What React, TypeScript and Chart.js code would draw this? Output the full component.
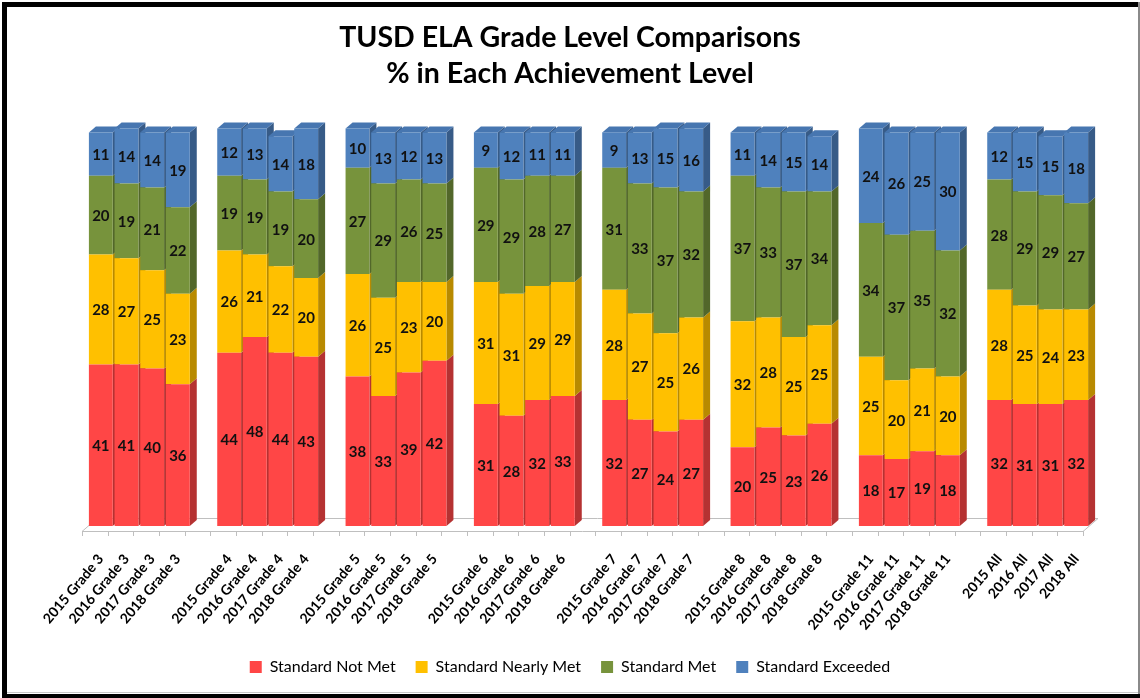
import React, { useEffect, useRef } from 'react';
import { Chart, registerables } from 'chart.js';

Chart.register(...registerables);

const groups = ['Grade 3', 'Grade 4', 'Grade 5', 'Grade 6', 'Grade 7', 'Grade 8', 'Grade 11', 'All'];
const years = ['2015', '2016', '2017', '2018'];
const seriesNames = ['Standard Not Met', 'Standard Nearly Met', 'Standard Met', 'Standard Exceeded'];

const notMet = [41, 41, 40, 36, 44, 48, 44, 43, 38, 33, 39, 42, 31, 28, 32, 33, 32, 27, 24, 27, 20, 25, 23, 26, 18, 17, 19, 18, 32, 31, 31, 32];
const nearlyMet = [28, 27, 25, 23, 26, 21, 22, 20, 26, 25, 23, 20, 31, 31, 29, 29, 28, 27, 25, 26, 32, 28, 25, 25, 25, 20, 21, 20, 28, 25, 24, 23];
const met = [20, 19, 21, 22, 19, 19, 19, 20, 27, 29, 26, 25, 29, 29, 28, 27, 31, 33, 37, 32, 37, 33, 37, 34, 34, 37, 35, 32, 28, 29, 29, 27];
const exceeded = [11, 14, 14, 19, 12, 13, 14, 18, 10, 13, 12, 13, 9, 12, 11, 11, 9, 13, 15, 16, 11, 14, 15, 14, 24, 26, 25, 30, 12, 15, 15, 18];

const frontColors = ['#FF4646', '#FFC000', '#77933C', '#4F81BD'];
const sideColors = ['#B53232', '#B88A00', '#52672A', '#375B87'];
const topColor = '#4776B0';

// build category slots: 4 bars per group, one empty slot between groups
const labels: string[] = [];
groups.forEach((g, gi) => {
  years.forEach((y) => labels.push(`${y} ${g}`));
  if (gi < groups.length - 1) labels.push('');
});
const toSlots = (arr: number[]) => {
  const out: (number | null)[] = [];
  groups.forEach((_, gi) => {
    for (let k = 0; k < 4; k++) out.push(arr[gi * 4 + k]);
    if (gi < groups.length - 1) out.push(null);
  });
  return out;
};
const seriesValues = [notMet, nearlyMet, met, exceeded];

const DX = 7;
const DY = -6;

const framePlugin = {
  id: 'frame',
  beforeDraw(chart: any) {
    const ctx = chart.ctx;
    ctx.save();
    ctx.fillStyle = '#ffffff';
    ctx.fillRect(0, 0, chart.width, chart.height);
    ctx.restore();
  },
  afterDraw(chart: any) {
    const ctx = chart.ctx;
    ctx.save();
    ctx.fillStyle = '#000000';
    ctx.fillRect(2, 2, 1138, 5);
    ctx.fillRect(2, 2, 5, 696);
    ctx.fillRect(2, 694, 1138, 4);
    ctx.fillStyle = '#c8c8c8';
    ctx.fillRect(7, 692, 1131, 1);
    ctx.fillStyle = '#8a8a8a';
    ctx.fillRect(1138, 2, 2, 692);
    ctx.restore();
  },
};

const threeDPlugin = {
  id: 'threeD',
  beforeDatasetsDraw(chart: any) {
    const ctx = chart.ctx;
    const xs = chart.scales.x;
    const area = chart.chartArea;
    const n = labels.length;
    const cw = (xs.right - xs.left) / n;
    // floor
    const fx0 = xs.left - 6;
    const fx1 = xs.right - 6;
    const fy = area.bottom + 5;
    const bx0 = fx0 + 15;
    const bx1 = fx1 + 15;
    const by = fy - 13;
    ctx.save();
    ctx.strokeStyle = '#bfbfbf';
    ctx.lineWidth = 1;
    ctx.beginPath();
    ctx.moveTo(fx0, fy + 0.5);
    ctx.lineTo(fx1, fy + 0.5);
    ctx.lineTo(bx1, by + 0.5);
    ctx.lineTo(bx0, by + 0.5);
    ctx.closePath();
    ctx.stroke();
    ctx.beginPath();
    for (let k = 0; k <= n; k++) {
      const tx = Math.round(fx0 + k * cw) + 0.5;
      ctx.moveTo(tx, fy);
      ctx.lineTo(tx, fy + 5);
    }
    ctx.stroke();

    // side and top faces
    for (let i = 0; i < n; i++) {
      let topIdx = -1;
      for (let d = 0; d < 4; d++) {
        const v = chart.data.datasets[d].data[i];
        if (v == null) continue;
        const el = chart.getDatasetMeta(d).data[i];
        const right = el.x + el.width / 2;
        ctx.fillStyle = sideColors[d];
        ctx.beginPath();
        ctx.moveTo(right, el.y);
        ctx.lineTo(right + DX, el.y + DY);
        ctx.lineTo(right + DX, el.base + DY);
        ctx.lineTo(right, el.base);
        ctx.closePath();
        ctx.fill();
        topIdx = d;
      }
      if (topIdx >= 0) {
        const el = chart.getDatasetMeta(topIdx).data[i];
        const left = el.x - el.width / 2;
        const right = el.x + el.width / 2;
        ctx.fillStyle = topColor;
        ctx.beginPath();
        ctx.moveTo(left, el.y);
        ctx.lineTo(left + DX, el.y + DY);
        ctx.lineTo(right + DX, el.y + DY);
        ctx.lineTo(right, el.y);
        ctx.closePath();
        ctx.fill();
      }
    }
    ctx.restore();
  },
  afterDatasetsDraw(chart: any) {
    const ctx = chart.ctx;
    ctx.save();
    ctx.fillStyle = '#111111';
    ctx.font = 'bold 15px Lato';
    ctx.textAlign = 'center';
    ctx.textBaseline = 'middle';
    chart.data.datasets.forEach((ds: any, d: number) => {
      const meta = chart.getDatasetMeta(d);
      ds.data.forEach((v: number | null, i: number) => {
        if (v == null) return;
        const el = meta.data[i];
        ctx.fillText(String(v), el.x, (el.y + el.base) / 2 + 1);
      });
    });
    ctx.restore();
  },
};

export default function App() {
  const ref = useRef<HTMLCanvasElement | null>(null);
  useEffect(() => {
    if (!ref.current) return;
    const chart = new Chart(ref.current, {
      type: 'bar',
      data: {
        labels,
        datasets: seriesValues.map((vals, d) => ({
          label: seriesNames[d],
          data: toSlots(vals),
          backgroundColor: frontColors[d],
          borderWidth: 0,
          barPercentage: 0.93,
          categoryPercentage: 1,
          clip: false as any,
        })),
      },
      options: {
        responsive: false,
        animation: false,
        layout: { padding: { left: 51, right: 51, top: 8, bottom: 13 } },
        plugins: {
          title: {
            display: true,
            text: ['TUSD ELA Grade Level Comparisons', '% in Each Achievement Level'],
            color: '#000000',
            font: { family: 'Lato', size: 28.5, weight: 'bold', lineHeight: 1.27 },
            padding: { top: 12, bottom: 40 },
          },
          legend: {
            position: 'bottom',
            labels: {
              boxWidth: 12,
              boxHeight: 12,
              color: '#000000',
              padding: 20,
              font: { family: 'Lato', size: 16 },
            },
          },
          tooltip: { enabled: false },
        },
        scales: {
          x: {
            stacked: true,
            offset: true,
            grid: { display: false },
            border: { display: false },
            ticks: {
              autoSkip: false,
              minRotation: 50,
              maxRotation: 50,
              color: '#000000',
              padding: 17,
              font: { family: 'Lato', size: 14, weight: 'bold' },
            },
            afterFit: (s: any) => {
              s.height = 113;
            },
          },
          y: {
            stacked: true,
            display: true,
            min: 0,
            max: 100,
            grid: { display: false },
            border: { display: false },
            ticks: { display: false },
            afterFit: (s: any) => {
              s.width = 37;
            },
          },
        },
      },
      plugins: [framePlugin, threeDPlugin],
    });
    return () => chart.destroy();
  }, []);
  return (
    <div style={{ position: 'absolute', left: 0, top: 0, width: 1140, height: 698 }}>
      <canvas ref={ref} width={1140} height={698} style={{ display: 'block', width: 1140, height: 698 }} />
    </div>
  );
}
